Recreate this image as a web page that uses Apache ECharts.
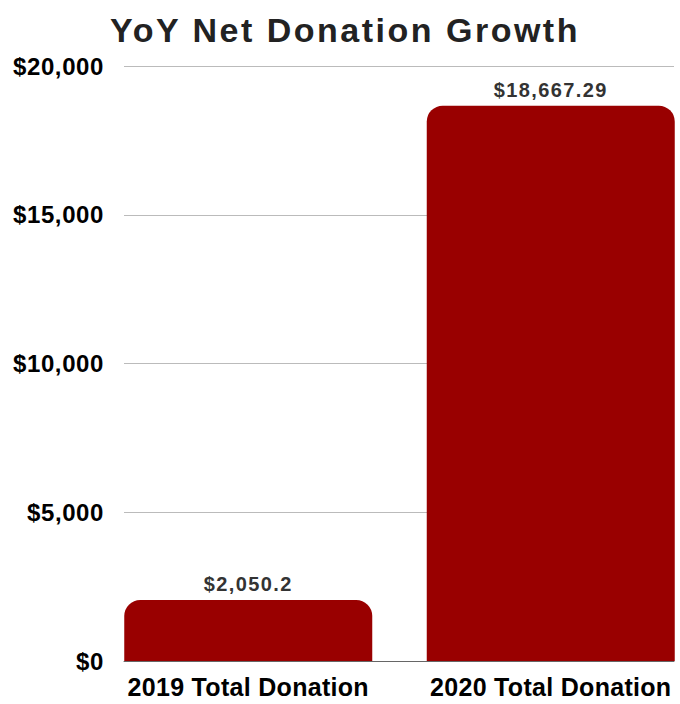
<!DOCTYPE html>
<html>
<head>
<meta charset="utf-8">
<title>YoY Net Donation Growth</title>
<script src="https://cdn.jsdelivr.net/npm/echarts@6/dist/echarts.min.js"></script>
<style>
  html, body { margin: 0; padding: 0; background: #fff; }
  #chart { width: 680px; height: 704px; }
  /* tracking for the title, the value labels and the axis labels */
  #chart text[style*="34px"] { letter-spacing: 2.5px; }
  #chart text[style*="20px"] { letter-spacing: 1.4px; }
  #chart text[style*="24px"] { letter-spacing: 0.6px; }
  #chart text[style*="25px"] { letter-spacing: 0.3px; }
</style>
</head>
<body>
<div id="chart"></div>
<script>
const categories = ['2019 Total Donation', '2020 Total Donation'];
const donations = [2050.2, 18667.29];
const yTicks = { min: 0, max: 20000, interval: 5000 };
const titleText = 'YoY Net Donation Growth';

const FONT = '"Liberation Sans", Arial, Helvetica, sans-serif';
const money = v => '$' + Number(v).toLocaleString('en-US', { maximumFractionDigits: 2 });

const chart = echarts.init(document.getElementById('chart'), null, { renderer: 'svg' });

chart.setOption({
  backgroundColor: '#ffffff',
  animation: false,
  title: {
    text: titleText,
    left: 340,
    textAlign: 'center',
    top: 8,
    textStyle: { fontFamily: FONT, fontSize: 34, fontWeight: 'bold', color: '#222222' }
  },
  grid: [
    // axis frame: gridlines, dollar labels and baseline
    { left: 124, right: 6, top: 66, bottom: 43, outerBoundsMode: 'none', containLabel: false },
    // bar layout band
    { left: 97, width: 605, top: 66, bottom: 43, outerBoundsMode: 'none', containLabel: false }
  ],
  xAxis: [
    {
      gridIndex: 0, type: 'category', data: categories,
      axisLine: { show: true, lineStyle: { color: '#666666', width: 1 } },
      axisTick: { show: false },
      axisLabel: { show: false }
    },
    {
      gridIndex: 1, type: 'category', data: categories,
      axisLine: { show: false },
      axisTick: { show: false },
      axisLabel: {
        interval: 0,
        hideOverlap: false,
        margin: 13,
        fontFamily: FONT, fontSize: 25, fontWeight: 'bold', color: '#000000'
      }
    }
  ],
  yAxis: [
    {
      gridIndex: 0, type: 'value',
      min: yTicks.min, max: yTicks.max, interval: yTicks.interval,
      axisLine: { show: false },
      axisTick: { show: false },
      splitLine: { lineStyle: { color: '#bbbbbb', width: 1 } },
      axisLabel: {
        margin: 20,
        formatter: v => money(v),
        fontFamily: FONT, fontSize: 24, fontWeight: 'bold', color: '#000000'
      }
    },
    {
      gridIndex: 1, type: 'value',
      min: yTicks.min, max: yTicks.max, interval: yTicks.interval,
      show: false,
      splitLine: { show: false }
    }
  ],
  series: [
    {
      type: 'bar',
      xAxisIndex: 1, yAxisIndex: 1,
      data: donations,
      barWidth: 248,
      itemStyle: { color: '#990000', borderRadius: [16, 16, 0, 0] },
      label: {
        show: true,
        position: 'top',
        distance: 6,
        formatter: p => money(p.value),
        fontFamily: FONT, fontSize: 20, fontWeight: 'bold', color: '#333333'
      }
    }
  ]
});
</script>
</body>
</html>
